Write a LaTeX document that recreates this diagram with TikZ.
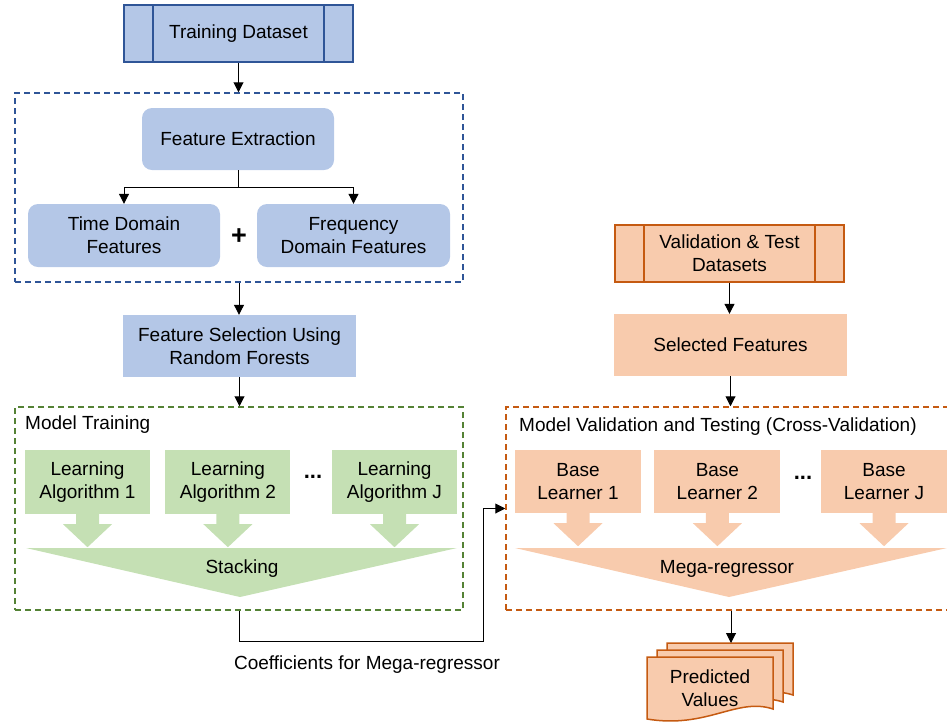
\documentclass[tikz,border=0pt]{standalone}
\usepackage{fontspec}
\setmainfont{Liberation Sans}
\usepackage{tikz}
\usetikzlibrary{positioning, arrows.meta, calc}
\definecolor{bluefill}{HTML}{B4C7E7}
\definecolor{blueline}{HTML}{2F5597}
\definecolor{greenfill}{HTML}{C5E0B4}
\definecolor{greenline}{HTML}{548235}
\definecolor{orangefill}{HTML}{F8CBAD}
\definecolor{orangeline}{HTML}{C55A11}
\tikzstyle{bluebox}=[%
      rectangle, fill=bluefill, draw=none, align=center,
      minimum width=192pt, minimum height=62pt, inner sep=2pt
]
\tikzstyle{blueround}=[bluebox, rounded corners=10pt]
\tikzstyle{greenbox}=[%
      rectangle, fill=greenfill, draw=none, align=center,
      minimum width=125pt, minimum height=64pt, inner sep=2pt
]
\tikzstyle{orangebox}=[%
      rectangle, fill=orangefill, draw=none, align=center,
      minimum width=126pt, minimum height=63pt, inner sep=2pt
]
\tikzstyle{frame}=[%
      rectangle, fill=none, line width=1.5pt, dash pattern=on 6pt off 4pt, inner sep=0pt
]
\tikzset{dataset/.style={%
      rectangle, fill=#1fill, draw=#1line, line width=1.5pt, align=center,
      minimum width=229pt, minimum height=57pt, inner sep=2pt,
      path picture={\draw[#1line, line width=1.5pt]
        ([xshift=29pt]path picture bounding box.north west) -- ([xshift=29pt]path picture bounding box.south west)
        ([xshift=-29pt]path picture bounding box.north east) -- ([xshift=-29pt]path picture bounding box.south east);}
}}
\tikzstyle{flow}=[draw=black, line width=1pt, -{Triangle[length=10pt,width=10pt]}]
\tikzstyle{docpage}=[fill=orangefill, draw=orangeline, line width=1.5pt]
\tikzstyle{dots}=[font=\fontsize{22}{22}\selectfont\bfseries, inner sep=0pt]
\newcommand{\pagedoc}[2]{%
  \filldraw[docpage, shift={(#1,#2)}] (0,0) -- (126,0) -- (126,52)
    .. controls (90,40) and (60,72) .. (0,62) -- cycle;
}

\begin{document}
\begin{tikzpicture}[x=1pt, y=-1pt, font=\fontsize{19}{23}\selectfont]
    \clip (0,0) rectangle (947,724);

    % training branch
    \node[dataset=blue]   (td)      at (238.5,33.5) {Training Dataset};
    \node[frame, draw=blueline, minimum width=448pt, minimum height=189pt] (extract) at (239,187.5) {};
    \node[blueround]      (fe)      at (238,139) {Feature Extraction};
    \node[blueround, minimum height=63pt] (tdf) at (124,235.5) {Time Domain\\Features};
    \node[blueround, minimum width=193pt, minimum height=63pt] (fdf) at (353.5,235.5) {Frequency\\Domain Features};
    \node[font=\fontsize{27}{27}\selectfont\bfseries, inner sep=0pt] (plus) at (239,237) {+};
    \node[bluebox, minimum width=233pt] (fs) at (239.5,346) {Feature Selection Using\\Random Forests};

    \node[frame, draw=greenline, minimum width=448pt, minimum height=203pt] (train) at (239,508.5) {};
    \node[anchor=west, inner sep=0pt] (traintitle) at (25,425) {Model Training};
    \node[greenbox]                    (la1) at (87.5,482) {Learning\\Algorithm 1};
    \node[greenbox, right=15pt of la1] (la2)               {Learning\\Algorithm 2};
    \node[greenbox]                    (laJ) at (394.5,482) {Learning\\Algorithm J};
    \node[dots] (gdots) at (313,477) {...};
    \foreach \n in {la1,la2,laJ}
      \fill[greenfill] ($(\n.south)+(-11.5,0)$) -- ++(23,0) -- ++(0,10) -- ++(13,0)
        -- ($(\n.south)+(0,33)$) -- ($(\n.south)+(-24.5,10)$) -- ++(13,0) -- cycle;
    \fill[greenfill] (26,548) -- (457,548) -- (240,597) -- cycle;
    \node (stack) at (242,569) {Stacking};

    % validation branch
    \node[dataset=orange] (vtd) at (729.5,253.5) {Validation \& Test\\Datasets};
    \node[orangebox, minimum width=233pt, minimum height=62pt] (sf) at (730.5,345) {Selected Features};

    \node[frame, draw=orangeline, minimum width=450pt, minimum height=203pt] (val) at (731,508.5) {};
    \node[anchor=west, inner sep=0pt] (valtitle) at (519,427) {Model Validation and Testing (Cross-Validation)};
    \node[orangebox]                    (bl1) at (578,481.5) {Base\\Learner 1};
    \node[orangebox, right=13pt of bl1] (bl2)                {Base\\Learner 2};
    \node[orangebox]                    (blJ) at (884,481.5) {Base\\Learner J};
    \node[dots] (odots) at (803,478) {...};
    \foreach \n in {bl1,bl2,blJ}
      \fill[orangefill] ($(\n.south)+(-11.5,0)$) -- ++(23,0) -- ++(0,10) -- ++(13,0)
        -- ($(\n.south)+(0,33)$) -- ($(\n.south)+(-24.5,10)$) -- ++(13,0) -- cycle;
    \fill[orangefill] (515,548) -- (947,548) -- (729,597) -- cycle;
    \node (mega) at (727,569) {Mega-regressor};

    \pagedoc{667}{643}
    \pagedoc{657}{650}
    \pagedoc{647}{657}
    \node[align=center] (pred) at (710,688) {Predicted\\Values};
    \coordinate (predtop) at (731,643);

    \node (coef) at (367,665) {Coefficients for Mega-regressor};
    \coordinate (bend) at (483,641);

    \draw[flow] (td) -- (td |- extract.north);
    \draw[line width=1pt] (fe.south) -- ++(0,17) coordinate (split);
    \draw[flow] (split) -| (tdf);
    \draw[flow] (split) -| (fdf);
    \draw[flow] (extract.south) -- (extract.south |- fs.north);
    \draw[flow] (fs) -- (fs |- train.north);
    \draw[flow] (train.south) |- (bend) |- (val.west);
    \draw[flow] (vtd) -- (vtd |- sf.north);
    \draw[flow] (sf) -- (sf |- val.north);
    \draw[flow] (val.south) -- (predtop);

  \end{tikzpicture}
\end{document}
